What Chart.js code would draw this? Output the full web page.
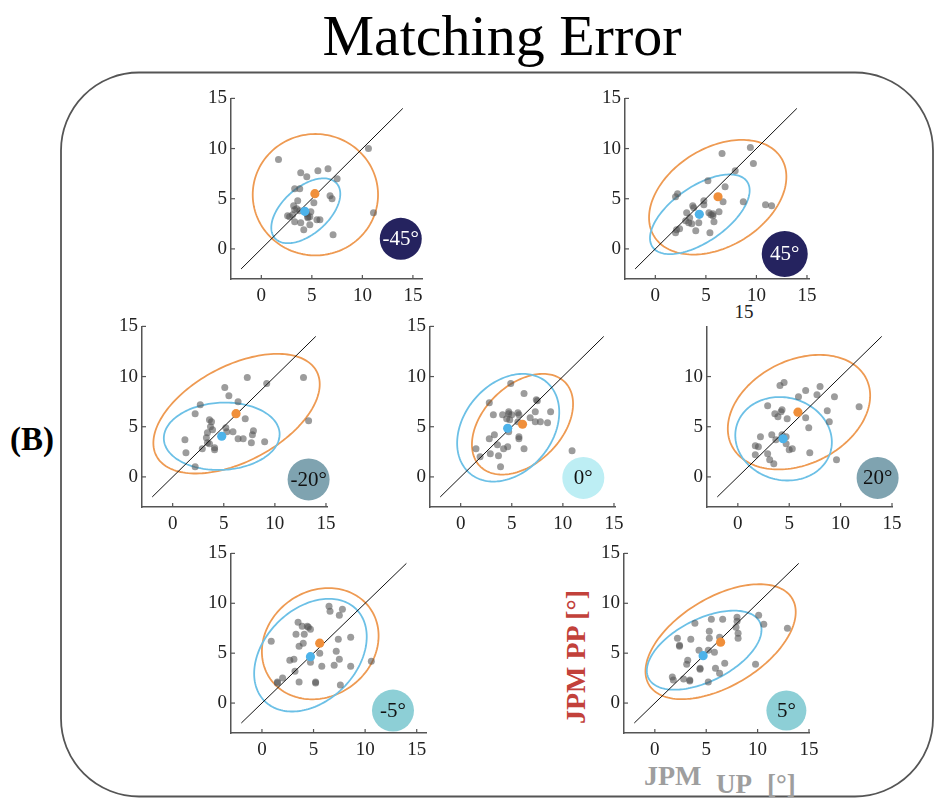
<!DOCTYPE html>
<html>
<head>
<meta charset="utf-8">
<script src="https://cdn.jsdelivr.net/npm/chart.js@4.4.1/dist/chart.umd.min.js"></script>
<style>
  html, body { margin: 0; padding: 0; background: #fff; }
  #stage { position: relative; width: 936px; height: 798px; overflow: hidden; }
  #stage svg { position: absolute; left: 0; top: 0; }
  #stage canvas { position: absolute; }
</style>
</head>
<body>
<div id="stage">
  <svg width="936" height="798" xmlns="http://www.w3.org/2000/svg">
    <rect x="61" y="72.5" width="872" height="724" rx="78" ry="78" fill="none" stroke="#555" stroke-width="1.8"/>
    <text x="502" y="55" text-anchor="middle" font-family="Liberation Serif" font-size="58" fill="#000">Matching Error</text>
    <text x="10" y="450" font-family="Liberation Serif" font-weight="bold" font-size="33" fill="#000">(B)</text>
    <text x="744" y="318" text-anchor="middle" font-family="Liberation Serif" font-size="19" fill="#222">15</text>
    <text x="585" y="657" text-anchor="middle" transform="rotate(-90 585 657)" font-family="Liberation Serif" font-weight="bold" font-size="28" fill="#c2413a">JPM PP [°]</text>
    <text x="644" y="785" font-family="Liberation Serif" font-weight="bold" font-size="28" fill="#9e9e9e">JPM</text>
    <text x="716" y="793" font-family="Liberation Serif" font-weight="bold" font-size="27" fill="#9e9e9e">UP</text>
    <text x="767" y="793" font-family="Liberation Serif" font-weight="bold" font-size="27" fill="#9e9e9e">[°]</text>
  </svg>
</div>
<script>
// Tilt conditions, one panel each
const conditions = ['-45°', '45°', '-20°', '0°', '20°', '-5°', '5°'];

// Axis ticks and the identity line y = x
const tickValues = [0, 5, 10, 15];
const identityLine = [-2, 14];

// Individual errors per condition: [JPM UP, JPM PP]
const pointsM45 = [[1.7,8.9],[10.6,10.0],[3.9,7.6],[4.5,7.2],[5.6,7.8],[6.6,8.0],[7.5,7.0],[3.3,6.0],[3.8,6.0],[6.8,5.3],[7.0,5.0],[3.6,4.8],[5.2,4.6],[3.2,4.3],[3.3,3.9],[2.8,3.2],[3.1,3.4],[3.8,3.8],[4.9,3.7],[4.8,3.2],[4.6,3.1],[4.6,3.2],[5.5,2.9],[5.8,2.9],[3.3,2.7],[3.9,2.6],[4.8,2.4],[4.2,1.9],[7.1,1.4],[11.1,3.6],[2.6,3.3],[3.5,4.0],[4.5,3.5]];
const points45 = [[6.6,9.5],[9.4,10.1],[9.7,8.5],[7.9,7.8],[5.2,6.8],[6.9,6.2],[2.2,5.5],[2.0,5.2],[4.8,4.8],[6.7,4.7],[8.7,4.7],[10.9,4.4],[11.5,4.3],[3.7,4.3],[4.8,4.4],[5.3,3.6],[5.5,3.4],[5.7,3.3],[6.3,3.7],[3.1,3.6],[3.4,3.1],[3.0,2.8],[3.3,2.6],[3.6,2.5],[4.3,2.6],[5.8,2.7],[4.0,1.8],[5.4,1.6],[2.1,1.9],[2.0,1.6],[2.4,2.0],[3.8,4.1],[5.7,3.5]];
const pointsM20 = [[7.3,9.9],[12.8,9.9],[9.2,9.3],[5.1,8.9],[5.5,8.1],[2.7,7.2],[6.4,7.5],[2.2,6.3],[7.1,5.8],[3.6,5.7],[3.8,5.5],[3.7,5.0],[3.9,4.7],[5.2,4.9],[5.3,4.5],[5.9,4.5],[7.9,4.6],[7.8,4.2],[3.4,4.4],[3.3,3.9],[6.4,3.8],[6.9,3.8],[1.2,3.7],[3.4,3.4],[3.6,3.3],[9.0,3.5],[7.7,3.4],[2.9,2.8],[4.1,2.9],[4.1,2.7],[1.3,2.4],[2.2,1.0],[13.3,5.6]];
const points0 = [[4.9,9.3],[6.2,8.3],[2.8,7.4],[7.4,7.7],[7.5,7.6],[3.2,6.2],[4.1,6.2],[4.7,6.5],[4.7,6.3],[5.0,6.2],[5.6,6.4],[5.7,6.2],[7.3,6.5],[8.8,6.5],[4.5,5.8],[4.8,5.7],[5.6,5.5],[6.8,5.9],[7.3,5.5],[7.8,5.5],[8.5,5.4],[4.7,4.5],[3.3,4.2],[2.8,3.8],[5.7,4.0],[5.7,3.8],[3.6,3.2],[4.6,3.0],[4.2,2.8],[6.2,2.8],[1.5,2.8],[2.9,2.3],[3.7,2.1],[1.9,2.0],[3.9,1.0],[10.9,2.6]];
const points20 = [[4.5,9.4],[4.1,9.1],[6.6,8.6],[8.0,9.0],[7.7,8.2],[5.9,8.0],[9.4,8.0],[2.9,7.1],[4.3,6.7],[4.2,6.5],[3.6,6.3],[3.9,6.0],[4.8,5.8],[6.6,5.9],[8.7,6.6],[8.9,5.5],[11.8,7.0],[6.9,4.9],[2.2,4.0],[3.3,4.2],[4.3,4.2],[4.7,4.0],[4.7,3.3],[5.0,2.7],[5.3,2.8],[7.0,2.4],[1.7,3.1],[2.0,3.0],[1.7,2.2],[2.9,2.3],[3.1,1.7],[3.5,1.3],[9.6,1.7],[3.7,3.7]];
const pointsM5 = [[6.5,9.7],[6.6,9.2],[7.8,9.4],[7.5,8.8],[3.5,8.1],[3.9,7.7],[4.4,7.7],[4.5,7.6],[4.7,7.4],[3.3,6.9],[4.1,6.9],[0.9,6.2],[7.4,6.4],[8.6,6.6],[3.6,5.7],[4.0,6.0],[7.2,5.2],[5.6,5.0],[4.7,4.1],[7.5,4.4],[2.7,4.3],[3.1,4.4],[5.8,3.7],[7.0,3.8],[8.6,3.7],[3.2,3.2],[2.0,2.5],[1.5,2.1],[1.5,2.0],[3.6,2.1],[5.2,2.1],[5.2,2.0],[7.6,1.8],[10.6,4.2]];
const points5 = [[3.9,8.0],[5.5,8.4],[6.6,8.4],[8.0,8.6],[8.0,8.2],[10.1,8.8],[10.6,7.9],[12.9,7.5],[7.9,7.6],[8.1,7.0],[2.2,6.5],[2.4,5.8],[2.4,5.7],[3.5,6.4],[5.3,7.2],[5.3,6.5],[6.3,6.6],[8.1,6.5],[4.3,5.3],[5.2,5.3],[5.8,5.1],[3.2,4.3],[3.1,3.9],[4.4,3.5],[4.4,3.4],[5.9,3.5],[6.8,4.0],[6.3,3.0],[1.7,2.6],[1.8,2.3],[2.8,2.4],[3.4,2.3],[3.4,2.2],[5.2,2.1],[9.8,3.9]];
const pointSets = [pointsM45, points45, pointsM20, points0, points20, pointsM5, points5];

// Group means per condition: [JPM UP, JPM PP]
const meanOrange = [[5.3,5.5],[6.2,5.2],[6.2,6.3],[6.05,5.25],[5.85,6.45],[5.6,6.0],[6.4,6.1]];
const meanBlue   = [[4.3,3.75],[4.35,3.45],[4.8,4.05],[4.6,4.85],[4.4,3.8],[4.7,4.65],[4.7,4.75]];

// Confidence ellipses: [centre x, centre y, semi-axis a, semi-axis b, tilt in degrees]
const ellipseOrange = [[5.35,5.4,6.2,6.05,0],[6.17,5.15,7.4,4.9,32],[6.25,6.3,8.9,4.75,28.6],[6.05,5.25,5.9,3.85,46],[5.95,6.45,7.35,5.15,28],[5.65,5.95,6.0,5.2,42],[6.4,6.15,8.2,4.4,32.5]];
const ellipseBlue   = [[4.4,3.8,4.1,2.3,42],[4.4,3.45,5.7,2.75,35],[4.8,4.05,5.67,3.35,3],[4.65,4.9,5.9,4.35,52],[4.45,3.8,4.75,4.1,-17],[4.7,4.8,6.4,4.55,48],[4.8,5.3,6.1,3.1,28]];

// Panel placement on the page (pixel position of the origin, pixels per unit) and badge styling
const panelLayout = [
  { x0: 261.7, y0: 248.3, sx: 10.1, sy: 10.2,  xMax: 15.9, yTicks: [0,5,10,15], badgeAt: [13.8, 1.0],  r: 21, fill: '#25235f', ink: '#ffffff' },
  { x0: 655.3, y0: 248.3, sx: 10.1, sy: 10.2,  xMax: 15.2, yTicks: [0,5,10,15], badgeAt: [12.8, -0.5], r: 23, fill: '#25235f', ink: '#ffffff' },
  { x0: 172.3, y0: 475.7, sx: 10.2, sy: 10.2,  xMax: 15.1, yTicks: [0,5,10,15], badgeAt: [13.3, -0.25],r: 21, fill: '#7fa3b0', ink: '#111111' },
  { x0: 461.0, y0: 475.7, sx: 10.2, sy: 10.2,  xMax: 15.1, yTicks: [0,5,10,15], badgeAt: [12.0, -0.1], r: 21, fill: '#bdeef4', ink: '#111111' },
  { x0: 738.3, y0: 475.7, sx: 10.3, sy: 10.2,  xMax: 15.0, yTicks: [0,5,10],    badgeAt: [13.6, -0.1], r: 21, fill: '#7fa3b0', ink: '#111111' },
  { x0: 261.7, y0: 702.3, sx: 10.3, sy: 10.15, xMax: 15.9, yTicks: [0,5,10,15], badgeAt: [12.7, -0.75],r: 21, fill: '#8dcfd6', ink: '#111111' },
  { x0: 655.0, y0: 702.3, sx: 10.3, sy: 10.15, xMax: 15.0, yTicks: [0,5,10,15], badgeAt: [12.8, -0.75],r: 20, fill: '#8dcfd6', ink: '#111111' }
];

const X_MIN = -3, Y_MIN = -3, Y_MAX = 15;
const PAD_L = 40, PAD_T = 12, PAD_R = 16, PAD_B = 36;
const SERIF = "'Liberation Serif', 'Times New Roman', serif";

// Draws the confidence ellipses through the chart's scales
const ellipsePlugin = {
  id: 'ellipses',
  beforeDatasetsDraw(chart, args, opts) {
    const { ctx, scales: { x, y } } = chart;
    (opts.items || []).forEach(item => {
      const [cx, cy, a, b, deg] = item.params;
      const th = deg * Math.PI / 180;
      ctx.save();
      ctx.beginPath();
      const n = 160;
      for (let i = 0; i <= n; i++) {
        const t = i / n * 2 * Math.PI;
        const u = a * Math.cos(t), v = b * Math.sin(t);
        const px = x.getPixelForValue(cx + u * Math.cos(th) - v * Math.sin(th));
        const py = y.getPixelForValue(cy + u * Math.sin(th) + v * Math.cos(th));
        if (i === 0) ctx.moveTo(px, py); else ctx.lineTo(px, py);
      }
      ctx.closePath();
      ctx.strokeStyle = item.color;
      ctx.lineWidth = 1.8;
      ctx.stroke();
      ctx.restore();
    });
  }
};

// Inward tick marks and the condition badge
const decorPlugin = {
  id: 'decor',
  afterDraw(chart, args, opts) {
    const { ctx, chartArea, scales: { x, y } } = chart;
    ctx.save();
    ctx.strokeStyle = '#555';
    ctx.lineWidth = 1.2;
    x.ticks.forEach(t => {
      const px = x.getPixelForValue(t.value);
      ctx.beginPath(); ctx.moveTo(px, chartArea.bottom); ctx.lineTo(px, chartArea.bottom - 4); ctx.stroke();
    });
    y.ticks.forEach(t => {
      const py = y.getPixelForValue(t.value);
      ctx.beginPath(); ctx.moveTo(chartArea.left, py); ctx.lineTo(chartArea.left + 4, py); ctx.stroke();
    });
    const bx = x.getPixelForValue(opts.at[0]);
    const by = y.getPixelForValue(opts.at[1]);
    ctx.beginPath();
    ctx.arc(bx, by, opts.r, 0, 2 * Math.PI);
    ctx.fillStyle = opts.fill;
    ctx.fill();
    ctx.fillStyle = opts.ink;
    ctx.font = '21px ' + SERIF;
    ctx.textAlign = 'center';
    ctx.textBaseline = 'middle';
    ctx.fillText(opts.label, bx, by + 1);
    ctx.restore();
  }
};

const stage = document.getElementById('stage');

function drawPanels() {
  conditions.forEach((label, i) => {
    const L = panelLayout[i];
    const areaLeft = L.x0 + X_MIN * L.sx;
    const areaTop = L.y0 - Y_MAX * L.sy;
    const areaW = (L.xMax - X_MIN) * L.sx;
    const areaH = (Y_MAX - Y_MIN) * L.sy;

    const canvas = document.createElement('canvas');
    const W = Math.round(areaW + PAD_L + PAD_R);
    const H = Math.round(areaH + PAD_T + PAD_B);
    canvas.width = W; canvas.height = H;
    canvas.style.width = W + 'px'; canvas.style.height = H + 'px';
    canvas.style.left = (areaLeft - PAD_L) + 'px';
    canvas.style.top = (areaTop - PAD_T) + 'px';
    stage.appendChild(canvas);

    const toXY = p => ({ x: p[0], y: p[1] });

    new Chart(canvas, {
      type: 'scatter',
      data: {
        datasets: [
          { data: [toXY(meanOrange[i])], backgroundColor: '#f08f3a', pointRadius: 4.6, borderWidth: 0 },
          { data: [toXY(meanBlue[i])], backgroundColor: '#4db3ea', pointRadius: 4.6, borderWidth: 0 },
          { data: identityLine.map(v => ({ x: v, y: v })), showLine: true, borderColor: '#111', borderWidth: 1, pointRadius: 0, fill: false },
          { data: pointSets[i].map(toXY), backgroundColor: 'rgba(85,85,85,0.58)', pointRadius: 3.5, borderWidth: 0 }
        ]
      },
      options: {
        responsive: false,
        animation: false,
        devicePixelRatio: 1,
        layout: { padding: { left: 0, top: PAD_T, right: PAD_R, bottom: 0 } },
        plugins: {
          legend: { display: false },
          tooltip: { enabled: false },
          ellipses: { items: [ { params: ellipseOrange[i], color: '#ee9a52' }, { params: ellipseBlue[i], color: '#6cc0e6' } ] },
          decor: { at: L.badgeAt, r: L.r, fill: L.fill, ink: L.ink, label: label }
        },
        scales: {
          x: {
            type: 'linear', min: X_MIN, max: L.xMax,
            afterBuildTicks: s => { s.ticks = tickValues.map(v => ({ value: v })); },
            afterFit: s => { s.height = PAD_B; },
            grid: { display: false, drawTicks: false },
            border: { display: true, color: '#555', width: 1.5 },
            ticks: { font: { family: SERIF, size: 19 }, color: '#222', padding: 6, maxRotation: 0, autoSkip: false }
          },
          y: {
            type: 'linear', min: Y_MIN, max: Y_MAX,
            afterBuildTicks: s => { s.ticks = L.yTicks.map(v => ({ value: v })); },
            afterFit: s => { s.width = PAD_L; },
            grid: { display: false, drawTicks: false },
            border: { display: true, color: '#555', width: 1.5 },
            ticks: { font: { family: SERIF, size: 19 }, color: '#222', padding: 4, autoSkip: false }
          }
        }
      },
      plugins: [ellipsePlugin, decorPlugin]
    });
  });
}

// Make sure the serif face is ready before the canvases paint their labels
Promise.all([
  document.fonts.load("19px 'Liberation Serif'"),
  document.fonts.load("21px 'Liberation Serif'")
]).then(drawPanels, drawPanels);
</script>
</body>
</html>
